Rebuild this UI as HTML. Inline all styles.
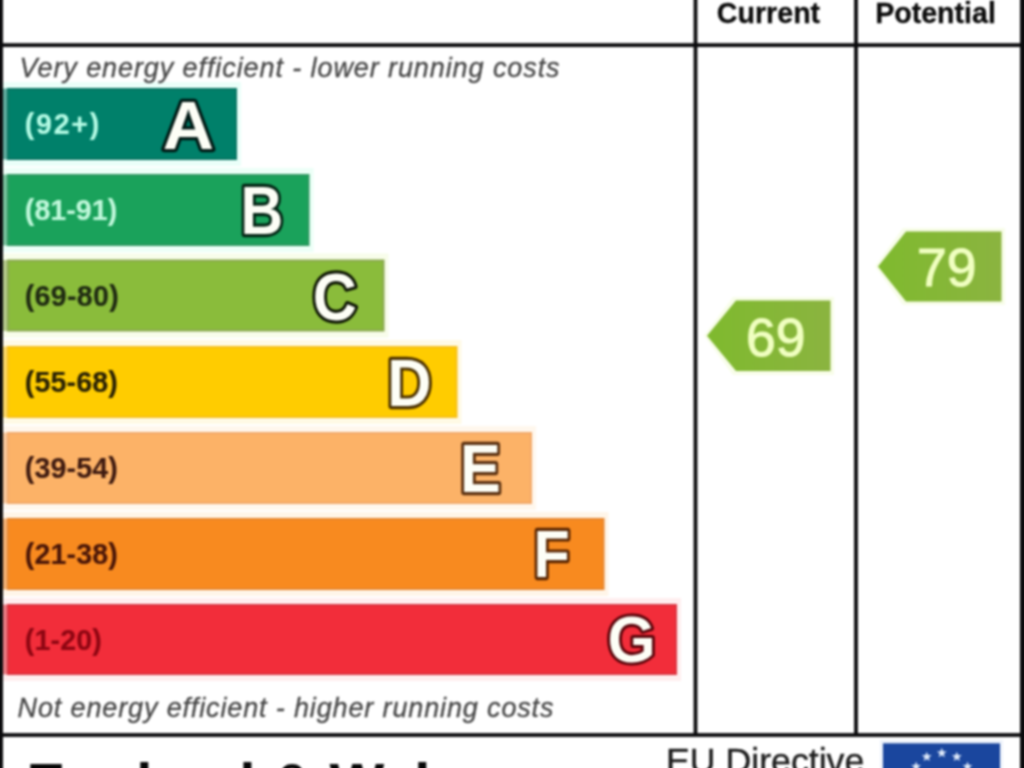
<!DOCTYPE html>
<html lang="en">
<head>
<meta charset="utf-8">
<title>Energy Efficiency Rating</title>
<style>
  html, body { margin: 0; padding: 0; background: #fff; }
  body { width: 1024px; height: 768px; overflow: hidden; position: relative; }
  svg { position: absolute; left: 0; top: 0; display: block; }
  text { font-family: "Liberation Sans", sans-serif; }
  .hdr { font-weight: bold; font-size: 28.6px; fill: #0c0c0c; stroke: #0c0c0c; stroke-width: 0.3px; }
  .note { font-style: italic; font-size: 27px; fill: #484848; letter-spacing: 0.91px; stroke: #484848; stroke-width: 0.3px; }
  .rng { font-weight: bold; font-size: 28.6px; stroke-width: 0.15px; }
  .ltr { font-weight: bold; font-size: 68px; fill: #fdfef6; stroke-width: 6.4px; stroke-linejoin: round; paint-order: stroke fill; }
  .val { font-size: 53.5px; fill: #f0ffc0; stroke: #f0ffc0; stroke-width: 1.1px; }
  .foot { font-weight: bold; font-size: 58px; fill: #060606; }
  .dir { font-size: 35.7px; fill: #1c1c1c; stroke: #1c1c1c; stroke-width: 0.4px; }
</style>
</head>
<body>
<svg width="1024" height="768" viewBox="0 0 1024 768">
  <defs>
    <linearGradient id="ag" x1="0" y1="0" x2="1" y2="0">
      <stop offset="0" stop-color="#7fba2e"/>
      <stop offset="1" stop-color="#8bb440"/>
    </linearGradient>
    <filter id="soft" filterUnits="userSpaceOnUse" x="-40" y="-40" width="1104" height="848" color-interpolation-filters="sRGB">
      <feGaussianBlur stdDeviation="1.05"/>
    </filter>
  </defs>
  <g filter="url(#soft)">
  <rect x="-40" y="-40" width="1104" height="848" fill="#ffffff"/>

  <!-- rating bars -->
  <rect x="2" y="82" width="239" height="84" fill="#eafff9"/>
  <rect x="2" y="168" width="311.5" height="84" fill="#ecfff7"/>
  <rect x="2" y="253.5" width="386.5" height="84" fill="#f8fdea"/>
  <rect x="2" y="340" width="459.5" height="84" fill="#fffae5"/>
  <rect x="2" y="426" width="534" height="84" fill="#fff7ed"/>
  <rect x="2" y="512" width="606.5" height="84" fill="#fff5e8"/>
  <rect x="2" y="598" width="679" height="83" fill="#ffeeef"/>
  <rect x="3" y="88.5" width="5" height="71" fill="#0a7664" fill-opacity="0.62"/>
  <rect x="7" y="88" width="230" height="72" fill="#0a7664"/>
  <rect x="9" y="90" width="226" height="68" fill="#00806a"/>
  <rect x="3" y="174.5" width="5" height="71" fill="#2f9a62" fill-opacity="0.62"/>
  <rect x="7" y="174" width="302.5" height="72" fill="#2f9a62"/>
  <rect x="9" y="176" width="298.5" height="68" fill="#1aa25b"/>
  <rect x="3" y="260.0" width="5" height="71" fill="#8aa850" fill-opacity="0.62"/>
  <rect x="7" y="259.5" width="377.5" height="72" fill="#8aa850"/>
  <rect x="9" y="261.5" width="373.5" height="68" fill="#8abc3b"/>
  <rect x="3" y="346.5" width="5" height="71" fill="#f7c01a" fill-opacity="0.62"/>
  <rect x="7" y="346" width="450.5" height="72" fill="#f7c01a"/>
  <rect x="9" y="348" width="446.5" height="68" fill="#ffcc00"/>
  <rect x="3" y="432.5" width="5" height="71" fill="#f2a96a" fill-opacity="0.62"/>
  <rect x="7" y="432" width="525" height="72" fill="#f2a96a"/>
  <rect x="9" y="434" width="521" height="68" fill="#fcb267"/>
  <rect x="3" y="518.5" width="5" height="71" fill="#e8862e" fill-opacity="0.62"/>
  <rect x="7" y="518" width="597.5" height="72" fill="#e8862e"/>
  <rect x="9" y="520" width="593.5" height="68" fill="#f88a1f"/>
  <rect x="3" y="604.5" width="5" height="70" fill="#dc3440" fill-opacity="0.62"/>
  <rect x="7" y="604" width="670" height="71" fill="#dc3440"/>
  <rect x="9" y="606" width="666" height="67" fill="#f22d3a"/>
  <!-- range labels -->
  <text class="rng" transform="translate(24.8 134.4) scale(1 1.02)" x="0" y="0" textLength="74.5" lengthAdjust="spacing" fill="#b4fbe5" stroke="#b4fbe5">(92+)</text>
  <text class="rng" transform="translate(24.8 220.4) scale(1 1.02)" x="0" y="0" textLength="92.5" lengthAdjust="spacing" fill="#c0f8db" stroke="#c0f8db">(81-91)</text>
  <text class="rng" transform="translate(24.8 305.9) scale(1 1.02)" x="0" y="0" textLength="94" lengthAdjust="spacing" fill="#1f2a12" stroke="#1f2a12">(69-80)</text>
  <text class="rng" transform="translate(24.8 392.4) scale(1 1.02)" x="0" y="0" textLength="93" lengthAdjust="spacing" fill="#2a2205" stroke="#2a2205">(55-68)</text>
  <text class="rng" transform="translate(24.8 478.4) scale(1 1.02)" x="0" y="0" textLength="93" lengthAdjust="spacing" fill="#3e1a10" stroke="#3e1a10">(39-54)</text>
  <text class="rng" transform="translate(24.8 564.4) scale(1 1.02)" x="0" y="0" textLength="93" lengthAdjust="spacing" fill="#4a1608" stroke="#4a1608">(21-38)</text>
  <text class="rng" transform="translate(24.8 650.4) scale(1 1.02)" x="0" y="0" textLength="77" lengthAdjust="spacing" fill="#8e0612" stroke="#8e0612">(1-20)</text>
  <!-- band letters -->
  <text class="ltr" text-anchor="middle" transform="translate(188.3 148.6) scale(1.043 1.007)" x="0" y="0" stroke="#011a15">A</text>
  <text class="ltr" text-anchor="middle" transform="translate(261.9 233.6) scale(0.87 1.007)" x="0" y="0" stroke="#032414">B</text>
  <text class="ltr" text-anchor="middle" transform="translate(334.8 319.5) scale(0.898 0.991)" x="0" y="0" stroke="#0c1403">C</text>
  <text class="ltr" text-anchor="middle" transform="translate(409.5 405.6) scale(0.902 0.985)" x="0" y="0" stroke="#4a3000">D</text>
  <text class="ltr" text-anchor="middle" transform="translate(480.5 492.2) scale(0.9 1.02)" x="0" y="0" stroke="#5a3010">E</text>
  <text class="ltr" text-anchor="middle" transform="translate(551.6 576.5) scale(0.873 0.985)" x="0" y="0" stroke="#5a2602">F</text>
  <text class="ltr" text-anchor="middle" transform="translate(631.6 661.9) scale(0.913 0.965)" x="0" y="0" stroke="#5a040a">G</text>
  <!-- notes -->
  <text class="note" x="19.6" y="76.5">Very energy efficient - lower running costs</text>
  <text class="note" x="17.6" y="716.5" style="letter-spacing:0.86px">Not energy efficient - higher running costs</text>

  <!-- column headers -->
  <text class="hdr" x="768.5" y="22.5" text-anchor="middle">Current</text>
  <text class="hdr" x="935.5" y="22.5" text-anchor="middle">Potential</text>

  <!-- rating arrows -->
  <polygon points="704,335.7 733,297 834,297 834,375 733,375" fill="#f8fde9"/>
  <polygon points="707,335.7 736,300.5 830.5,300.5 830.5,371 736,371" fill="url(#ag)"/>
  <text class="val" x="775.7" y="355.8" text-anchor="middle">69</text>
  <polygon points="875,266.5 903,228 1005,228 1005,305 903,305" fill="#f8fde9"/>
  <polygon points="878,266.5 906,231.5 1001.5,231.5 1001.5,301.5 906,301.5" fill="url(#ag)"/>
  <text class="val" x="946.8" y="285.8" text-anchor="middle">79</text>

  <!-- grid lines -->
  <g fill="#0b0b0d">
    <rect x="-40" y="-40" width="43" height="848"/>
    <rect x="1020" y="-40" width="44" height="848"/>
    <rect x="-40" y="43.2" width="1104" height="3.8"/>
    <rect x="-40" y="733.1" width="1104" height="3.8"/>
    <rect x="693.6" y="-40" width="3.8" height="775"/>
    <rect x="854.1" y="-40" width="3.8" height="775"/>
  </g>

  <!-- footer -->
  <text class="foot" x="26.6" y="804.2">England &amp; Wales</text>
  <text class="dir" x="666" y="773">EU Directive</text>
  <rect x="880" y="740" width="123" height="70" fill="#eef3fb"/>
  <rect x="883" y="743.3" width="117" height="70" fill="#1a469e"/>
  <g fill="#dfeafa">
    <polygon points="916.10,761.47 917.38,764.90 921.05,765.06 918.18,767.34 919.16,770.87 916.10,768.85 913.04,770.87 914.02,767.34 911.15,765.06 914.82,764.90"/>
    <polygon points="926.77,751.69 928.05,755.12 931.72,755.28 928.85,757.56 929.83,761.09 926.77,759.07 923.71,761.09 924.69,757.56 921.83,755.28 925.49,755.12"/>
    <polygon points="941.80,747.80 943.08,751.23 946.75,751.39 943.88,753.67 944.86,757.21 941.80,755.18 938.74,757.21 939.72,753.67 936.85,751.39 940.52,751.23"/>
    <polygon points="956.83,751.69 958.11,755.12 961.77,755.28 958.91,757.56 959.89,761.09 956.83,759.07 953.77,761.09 954.75,757.56 951.88,755.28 955.55,755.12"/>
    <polygon points="967.50,761.47 968.78,764.90 972.45,765.06 969.58,767.34 970.56,770.87 967.50,768.85 964.44,770.87 965.42,767.34 962.55,765.06 966.22,764.90"/>
  </g>
  </g>
</svg>
</body>
</html>
